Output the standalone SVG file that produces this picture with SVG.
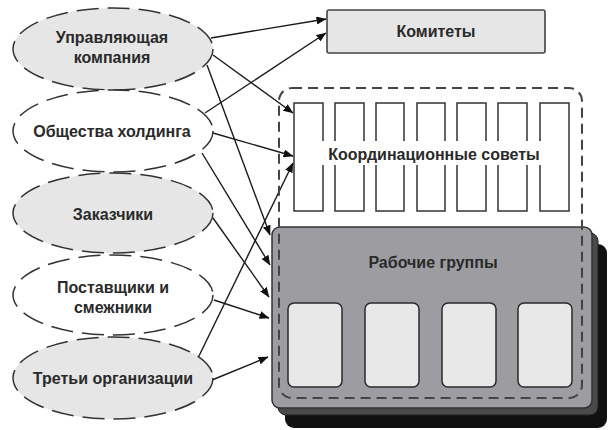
<svg xmlns="http://www.w3.org/2000/svg" width="611" height="430" viewBox="0 0 611 430">
<defs>
<style>
text{font-family:"Liberation Sans",Arial,sans-serif;font-size:16px;font-weight:bold;fill:#2a2a2a;text-anchor:middle}
.ell{stroke:#333;stroke-width:1.5;stroke-dasharray:22 9}
.g{fill:#e6e6e6}
.w{fill:#fff}
.ln{stroke:#1a1a1a;stroke-width:1.4;fill:none;marker-end:url(#ah)}
.cr{fill:#fff;stroke:#333;stroke-width:1.5}
.wb{fill:#e8e8e8;stroke:#2a2a2a;stroke-width:1.5}
</style>
<marker id="ah" viewBox="0 0 10 8" refX="9.5" refY="4" markerWidth="10" markerHeight="8" markerUnits="userSpaceOnUse" orient="auto">
<path d="M0,0 L10,4 L0,8 Z" fill="#111"/>
</marker>
</defs>

<g id="connectors">
<line class="ln" x1="211" y1="38" x2="326" y2="19"/>
<line class="ln" x1="205" y1="113" x2="326" y2="33"/>
<line class="ln" x1="213" y1="55" x2="293" y2="113"/>
<line class="ln" x1="213" y1="133" x2="293" y2="156"/>
<line class="ln" x1="198" y1="358" x2="293" y2="163"/>
<line class="ln" x1="207" y1="65" x2="270" y2="235"/>
<line class="ln" x1="202" y1="153" x2="270" y2="265"/>
<line class="ln" x1="213" y1="218" x2="269" y2="297"/>
<line class="ln" x1="214" y1="300" x2="269" y2="318"/>
<line class="ln" x1="212" y1="380" x2="268" y2="357"/>
</g>

<g id="upravl">
<ellipse class="ell g" cx="113" cy="49" rx="100" ry="41"/>
<text x="112" y="43">Управляющая</text>
<text x="112" y="63">компания</text>
</g>
<g id="obshchestva">
<ellipse class="ell w" cx="113" cy="131" rx="100" ry="41"/>
<text x="112" y="137">Общества холдинга</text>
</g>
<g id="zakazchiki">
<ellipse class="ell g" cx="113" cy="213" rx="100" ry="40"/>
<text x="113" y="220">Заказчики</text>
</g>
<g id="postavshchiki">
<ellipse class="ell w" cx="113" cy="295" rx="100" ry="40"/>
<text x="113" y="293">Поставщики и</text>
<text x="113" y="313">смежники</text>
</g>
<g id="tretyi">
<ellipse class="ell g" cx="113" cy="378" rx="100" ry="41"/>
<text x="113" y="384">Третьи организации</text>
</g>

<g id="komitety">
<rect x="327" y="10" width="218" height="43" rx="2" fill="#e6e6e6" stroke="#444" stroke-width="1.6"/>
<text x="436" y="37">Комитеты</text>
</g>

<g id="rabochie">
<rect x="285" y="244" width="322" height="184" rx="9" fill="#111"/>
<rect x="278" y="233" width="320" height="182" rx="8" fill="#4a4a4a" stroke="#222" stroke-width="1"/>
<rect x="272" y="227" width="320" height="181" rx="8" fill="#9d9da1" stroke="#333" stroke-width="1.5"/>
<text x="433" y="268">Рабочие группы</text>
<rect class="wb" x="288" y="303" width="54" height="84" rx="6"/>
<rect class="wb" x="365" y="303" width="54" height="84" rx="6"/>
<rect class="wb" x="442" y="303" width="54" height="84" rx="6"/>
<rect class="wb" x="518" y="303" width="54" height="84" rx="6"/>
</g>

<g id="koordin">
<rect x="279" y="88" width="303" height="310" rx="13" fill="none" stroke="#444" stroke-width="2" stroke-dasharray="10 6"/>
<rect class="cr" x="294" y="103" width="29" height="108"/>
<rect class="cr" x="335" y="103" width="29" height="108"/>
<rect class="cr" x="376" y="103" width="28" height="108"/>
<rect class="cr" x="417" y="103" width="28" height="108"/>
<rect class="cr" x="457" y="103" width="29" height="108"/>
<rect class="cr" x="498" y="103" width="29" height="108"/>
<rect class="cr" x="540" y="103" width="29" height="108"/>
<rect x="318" y="141" width="234" height="24" fill="#fff"/>
<text x="434" y="160">Координационные советы</text>
</g>
</svg>
